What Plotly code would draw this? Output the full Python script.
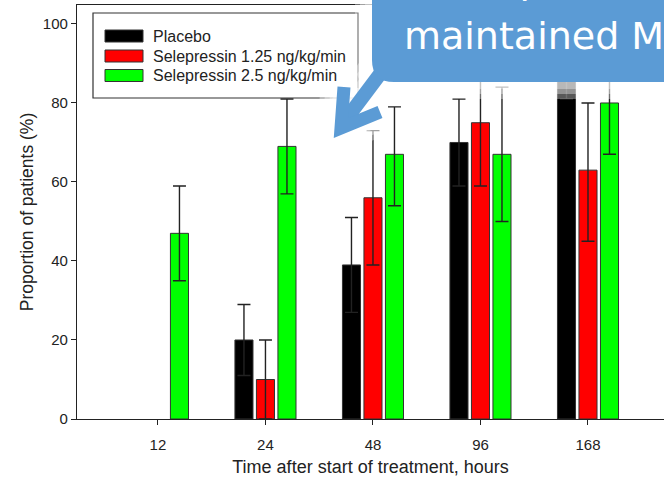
import plotly.graph_objects as go

# ---------------- data ----------------
categories = ["12", "24", "48", "96", "168"]
series_names = ["Placebo", "Selepressin 1.25 ng/kg/min", "Selepressin 2.5 ng/kg/min"]
series_colors = ["#000000", "#ff0000", "#00ff00"]

placebo = [None, 20, 39, 70, 90]
placebo_hi = [None, 29, 51, 81, 99]
placebo_lo = [None, 11, 27, 59, 81]

sel125 = [None, 10, 56, 75, 63]
sel125_hi = [None, 20, 73, 91, 80]
sel125_lo = [None, 0, 39, 59, 45]

sel25 = [47, 69, 67, 67, 80]
sel25_hi = [59, 81, 79, 84, 93]
sel25_lo = [35, 57, 54, 50, 67]

y_ticks = [0, 20, 40, 60, 80, 100]
callout_lines = ["Selepressin", "maintained MAP"]

# ---------------- layout geometry (pixels) ----------------
FIG_W, FIG_H = 664, 483
L, R, T, B = 77, 664, 5, 419
W, H = R - L, B - T


def px(x):
    return (x - L) / W


def py(y):
    return (B - y) / H


def up(vals, hi):
    return [None if v is None else h - v for v, h in zip(vals, hi)]


def down(vals, lo):
    return [None if v is None else v - l for v, l in zip(vals, lo)]


fig = go.Figure()
all_series = [(placebo, placebo_hi, placebo_lo),
              (sel125, sel125_hi, sel125_lo),
              (sel25, sel25_hi, sel25_lo)]
for (vals, hi, lo), name, col in zip(all_series, series_names, series_colors):
    fig.add_trace(go.Bar(
        x=categories, y=vals, name=name,
        marker=dict(color=col, line=dict(color="#333333", width=1)),
        error_y=dict(type="data", symmetric=False,
                     array=up(vals, hi), arrayminus=down(vals, lo),
                     color="#222222", thickness=1.4, width=6.5),
        showlegend=False,
    ))

shapes = []
annotations = []

# ---- custom legend ----
shapes.append(dict(type="rect", xref="paper", yref="paper",
                   x0=px(93), x1=px(358), y0=py(13), y1=py(98),
                   line=dict(color="#333333", width=1.2), fillcolor="white", layer="above"))
rows = [36, 56, 75.5]
for name, col, yc in zip(series_names, series_colors, rows):
    shapes.append(dict(type="rect", xref="paper", yref="paper",
                       x0=px(105), x1=px(143), y0=py(yc + 6), y1=py(yc - 6),
                       line=dict(color="#333333", width=1), fillcolor=col, layer="above"))
    annotations.append(dict(text=name, xref="paper", yref="paper",
                            x=px(151), y=py(yc), xanchor="left", yanchor="middle",
                            showarrow=False,
                            font=dict(family="Liberation Sans, Arial", size=16, color="#222222")))

# ---- callout with glow ----
BLUE = "#5b9bd5"


def callout_path():
    return (f"M {px(372)},{py(-90)} L {px(372)},{py(60)} "
            f"Q {px(372)},{py(82)} {px(394)},{py(82)} "
            f"L {px(780)},{py(82)} L {px(780)},{py(-90)} Z")


def poly(points):
    s = "M " + " L ".join(f"{px(x)},{py(y)}" for x, y in points)
    return s


arrow_head = [(344, 87), (341, 128), (380, 112)]
arrow_shaft = [(341, 126), (386, 66)]

for wdt, op in [(34, 0.35), (24, 0.35), (14, 0.35)]:
    shapes.append(dict(type="path", xref="paper", yref="paper", path=callout_path(),
                       line=dict(color="white", width=wdt), fillcolor="rgba(0,0,0,0)",
                       opacity=op, layer="above"))
    shapes.append(dict(type="path", xref="paper", yref="paper", path=poly(arrow_head),
                       line=dict(color="white", width=13 + wdt), opacity=op, layer="above"))
    shapes.append(dict(type="path", xref="paper", yref="paper", path=poly(arrow_shaft),
                       line=dict(color="white", width=13 + wdt), opacity=op, layer="above"))

shapes.append(dict(type="path", xref="paper", yref="paper", path=poly(arrow_shaft),
                   line=dict(color=BLUE, width=14), layer="above"))
shapes.append(dict(type="path", xref="paper", yref="paper", path=poly(arrow_head),
                   line=dict(color=BLUE, width=13), layer="above"))
shapes.append(dict(type="path", xref="paper", yref="paper", path=callout_path(),
                   line=dict(width=0), fillcolor=BLUE, layer="above"))

annotations.append(dict(text=callout_lines[0], xref="paper", yref="paper",
                        x=px(436), y=py(-20), xanchor="left", yanchor="middle",
                        showarrow=False,
                        font=dict(family="DejaVu Sans", size=38, color="white")))
annotations.append(dict(text=callout_lines[1], xref="paper", yref="paper",
                        x=px(402), y=py(36), xanchor="left", yanchor="middle",
                        showarrow=False,
                        font=dict(family="DejaVu Sans", size=38, color="white")))

fig.update_layout(
    width=FIG_W, height=FIG_H,
    margin=dict(l=L, r=FIG_W - R, t=T, b=FIG_H - B, pad=0),
    paper_bgcolor="white", plot_bgcolor="white",
    barmode="group", bargap=0.4, bargroupgap=0.16,
    font=dict(family="Liberation Sans, Arial", color="#222222"),
    shapes=shapes, annotations=annotations,
    xaxis=dict(type="category", range=[-0.753, 4.707],
               showline=True, mirror=True, linecolor="#222222", linewidth=1.3,
               ticks="outside", ticklen=5, tickwidth=1.2, tickcolor="#222222",
               ticklabelstandoff=7,
               tickfont=dict(family="Liberation Sans, Arial", size=15, color="#222222"),
               showgrid=False,
               title=dict(text="Time after start of treatment, hours",
                          font=dict(size=18, color="#222222"), standoff=8)),
    yaxis=dict(range=[0, 104.8], tickvals=y_ticks,
               showline=True, linecolor="#222222", linewidth=1.3,
               ticks="outside", ticklen=5, tickwidth=1.2, tickcolor="#222222",
               tickfont=dict(family="Liberation Sans, Arial", size=15, color="#222222"),
               showgrid=False, zeroline=False,
               title=dict(text="Proportion of patients (%)",
                          font=dict(size=17.5, color="#222222"), standoff=4)),
)

fig.write_html("out.html")
